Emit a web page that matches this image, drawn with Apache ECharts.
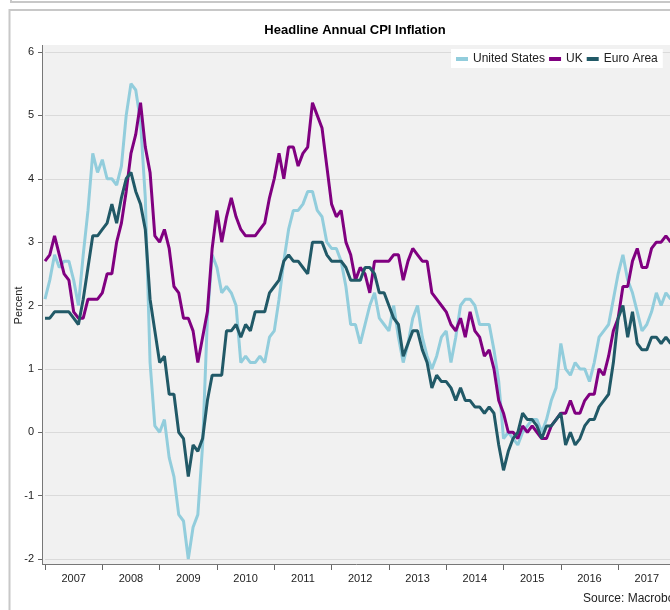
<!DOCTYPE html>
<html>
<head>
<meta charset="utf-8">
<script src="https://cdn.jsdelivr.net/npm/echarts@6/dist/echarts.min.js"></script>
<style>
  html, body { margin: 0; padding: 0; background: #fff; overflow: hidden; }
  #main { width: 670px; height: 610px; }
</style>
</head>
<body>
<div id="main"></div>
<script>
// monthly, Jan 2007 .. Dec 2017 (axis runs on to Dec 2018)
var years = ['2007', '2008', '2009', '2010', '2011', '2012', '2013', '2014', '2015', '2016', '2017', '2018'];

var usCpi = [
    2.1, 2.4, 2.8, 2.6, 2.7, 2.7, 2.4, 2.0, 2.8, 3.5, 4.4, 4.1,
    4.3, 4.0, 4.0, 3.9, 4.2, 5.0, 5.5, 5.4, 4.9, 3.7, 1.1, 0.1,
    0.0, 0.2, -0.4, -0.7, -1.3, -1.4, -2.0, -1.5, -1.3, -0.2, 1.8, 2.8,
    2.6, 2.2, 2.3, 2.2, 2.0, 1.1, 1.2, 1.1, 1.1, 1.2, 1.1, 1.5,
    1.6, 2.1, 2.7, 3.2, 3.5, 3.5, 3.6, 3.8, 3.8, 3.5, 3.4, 3.0,
    2.9, 2.9, 2.7, 2.3, 1.7, 1.7, 1.4, 1.7, 2.0, 2.2, 1.8, 1.7,
    1.6, 2.0, 1.5, 1.1, 1.4, 1.8, 2.0, 1.5, 1.2, 1.0, 1.2, 1.5,
    1.6, 1.1, 1.5, 2.0, 2.1, 2.1, 2.0, 1.7, 1.7, 1.7, 1.3, 0.8,
    -0.1, 0.0, -0.1, -0.2, 0.0, 0.1, 0.2, 0.2, 0.0, 0.2, 0.5, 0.7,
    1.4, 1.0, 0.9, 1.1, 1.0, 1.0, 0.8, 1.1, 1.5, 1.6, 1.7, 2.1,
    2.5, 2.8, 2.4, 2.2, 1.9, 1.6, 1.7, 1.9, 2.2, 2.0, 2.2, 2.1
];

var ukCpi = [
    2.7, 2.8, 3.1, 2.8, 2.5, 2.4, 1.9, 1.8, 1.8, 2.1, 2.1, 2.1,
    2.2, 2.5, 2.5, 3.0, 3.3, 3.8, 4.4, 4.7, 5.2, 4.5, 4.1, 3.1,
    3.0, 3.2, 2.9, 2.3, 2.2, 1.8, 1.8, 1.6, 1.1, 1.5, 1.9, 2.9,
    3.5, 3.0, 3.4, 3.7, 3.4, 3.2, 3.1, 3.1, 3.1, 3.2, 3.3, 3.7,
    4.0, 4.4, 4.0, 4.5, 4.5, 4.2, 4.4, 4.5, 5.2, 5.0, 4.8, 4.2,
    3.6, 3.4, 3.5, 3.0, 2.8, 2.4, 2.6, 2.5, 2.2, 2.7, 2.7, 2.7,
    2.7, 2.8, 2.8, 2.4, 2.7, 2.9, 2.8, 2.7, 2.7, 2.2, 2.1, 2.0,
    1.9, 1.7, 1.6, 1.8, 1.5, 1.9, 1.6, 1.5, 1.2, 1.3, 1.0, 0.5,
    0.3, 0.0, 0.0, -0.1, 0.1, 0.0, 0.1, 0.0, -0.1, -0.1, 0.1, 0.2,
    0.3, 0.3, 0.5, 0.3, 0.3, 0.5, 0.6, 0.6, 1.0, 0.9, 1.2, 1.6,
    1.8, 2.3, 2.3, 2.7, 2.9, 2.6, 2.6, 2.9, 3.0, 3.0, 3.1, 3.0
];

var euroCpi = [
    1.8, 1.8, 1.9, 1.9, 1.9, 1.9, 1.8, 1.7, 2.1, 2.6, 3.1, 3.1,
    3.2, 3.3, 3.6, 3.3, 3.7, 4.0, 4.1, 3.8, 3.6, 3.2, 2.1, 1.6,
    1.1, 1.2, 0.6, 0.6, 0.0, -0.1, -0.7, -0.2, -0.3, -0.1, 0.5, 0.9,
    0.9, 0.9, 1.6, 1.6, 1.7, 1.5, 1.7, 1.6, 1.9, 1.9, 1.9, 2.2,
    2.3, 2.4, 2.7, 2.8, 2.7, 2.7, 2.6, 2.5, 3.0, 3.0, 3.0, 2.8,
    2.7, 2.7, 2.7, 2.6, 2.4, 2.4, 2.4, 2.6, 2.6, 2.5, 2.2, 2.2,
    2.0, 1.8, 1.7, 1.2, 1.4, 1.6, 1.6, 1.3, 1.1, 0.7, 0.9, 0.8,
    0.8, 0.7, 0.5, 0.7, 0.5, 0.5, 0.4, 0.4, 0.3, 0.4, 0.3, -0.2,
    -0.6, -0.3, -0.1, 0.0, 0.3, 0.2, 0.2, 0.1, -0.1, 0.1, 0.1, 0.2,
    0.3, -0.2, 0.0, -0.2, -0.1, 0.1, 0.2, 0.2, 0.4, 0.5, 0.6, 1.1,
    1.8, 2.0, 1.5, 1.9, 1.4, 1.3, 1.3, 1.5, 1.5, 1.4, 1.5, 1.4
];

var seriesNames = ['United States', 'UK', 'Euro Area'];
var seriesColors = ['#92cddc', '#800080', '#215967'];

var months = [];
for (var y = 0; y < years.length; y++) {
    for (var m = 1; m <= 12; m++) {
        months.push(years[y] + '-' + (m < 10 ? '0' + m : m));
    }
}

var FONT = "'Liberation Sans', Arial, sans-serif";

var dom = document.getElementById('main');
var myChart = echarts.init(dom);

var option = {
    animation: false,
    backgroundColor: '#fff',
    title: {
        text: 'Headline Annual CPI Inflation',
        left: 350,
        top: 19,
        textAlign: 'center',
        textStyle: {
            fontFamily: FONT,
            fontSize: 13,
            fontWeight: 'bold',
            color: '#000'
        }
    },
    legend: {
        data: seriesNames,
        left: 451,
        top: 49,
        backgroundColor: '#fff',
        padding: [4, 5, 3, 5],
        icon: 'rect',
        itemWidth: 12,
        itemHeight: 4,
        itemGap: 4,
        textStyle: {
            fontFamily: FONT,
            fontSize: 12,
            color: '#222'
        }
    },
    grid: {
        left: 45,
        right: -58,
        top: 52,
        bottom: 51,
        outerBoundsMode: 'none'
    },
    xAxis: {
        type: 'category',
        data: months,
        boundaryGap: false,
        offset: 5,
        axisLine: { show: false, onZero: false },
        axisTick: {
            show: true,
            length: 6,
            interval: function (index) { return index % 12 === 0; },
            lineStyle: { color: '#666' }
        },
        axisLabel: {
            interval: function (index) { return index % 12 === 6; },
            formatter: function (v) { return v.slice(0, 4); },
            margin: 9,
            fontFamily: FONT,
            fontSize: 11,
            color: '#222'
        },
        splitLine: { show: false }
    },
    yAxis: {
        type: 'value',
        min: -2,
        max: 6,
        interval: 1,
        offset: 3,
        name: 'Percent',
        nameLocation: 'middle',
        nameGap: 18,
        nameMoveOverlap: false,
        nameTextStyle: {
            fontFamily: FONT,
            fontSize: 11,
            color: '#222'
        },
        axisLine: { show: false },
        axisTick: {
            show: true,
            length: 4,
            lineStyle: { color: '#666' }
        },
        axisLabel: {
            margin: 8,
            fontFamily: FONT,
            fontSize: 11,
            color: '#222'
        },
        splitLine: {
            lineStyle: { color: '#dadada', width: 1 }
        }
    },
    graphic: [
        { // previous panel edge
            type: 'rect', z: -100,
            shape: { x: 11, y: -20, width: 700, height: 22 },
            style: { fill: 'none', stroke: '#c8c8c8', lineWidth: 2 }
        },
        { // chart panel
            type: 'rect', z: -100,
            shape: { x: 9.5, y: 10, width: 700, height: 640 },
            style: { fill: '#fff', stroke: '#c8c8c8', lineWidth: 2 }
        },
        { // plot background
            type: 'rect', z: -90,
            shape: { x: 42, y: 45, width: 700, height: 519 },
            style: { fill: '#f1f1f1' }
        },
        {
            type: 'line', z: 100,
            shape: { x1: 42.5, y1: 45, x2: 42.5, y2: 565 },
            style: { stroke: '#777', lineWidth: 1 }
        },
        {
            type: 'line', z: 100,
            shape: { x1: 42, y1: 564.5, x2: 700, y2: 564.5 },
            style: { stroke: '#777', lineWidth: 1 }
        },
        {
            type: 'text', z: 100,
            x: 583, y: 593,
            style: {
                text: 'Source: Macrobond',
                font: '12px ' + FONT,
                fill: '#222'
            }
        }
    ],
    series: [
        {
            name: seriesNames[0],
            type: 'line',
            data: usCpi,
            showSymbol: false,
            color: seriesColors[0],
            lineStyle: { width: 3, color: seriesColors[0] }
        },
        {
            name: seriesNames[1],
            type: 'line',
            data: ukCpi,
            showSymbol: false,
            color: seriesColors[1],
            lineStyle: { width: 3, color: seriesColors[1] }
        },
        {
            name: seriesNames[2],
            type: 'line',
            data: euroCpi,
            showSymbol: false,
            color: seriesColors[2],
            lineStyle: { width: 3, color: seriesColors[2] }
        }
    ]
};

if (option && typeof option === "object") {
    myChart.setOption(option, true);
}
</script>
</body>
</html>
